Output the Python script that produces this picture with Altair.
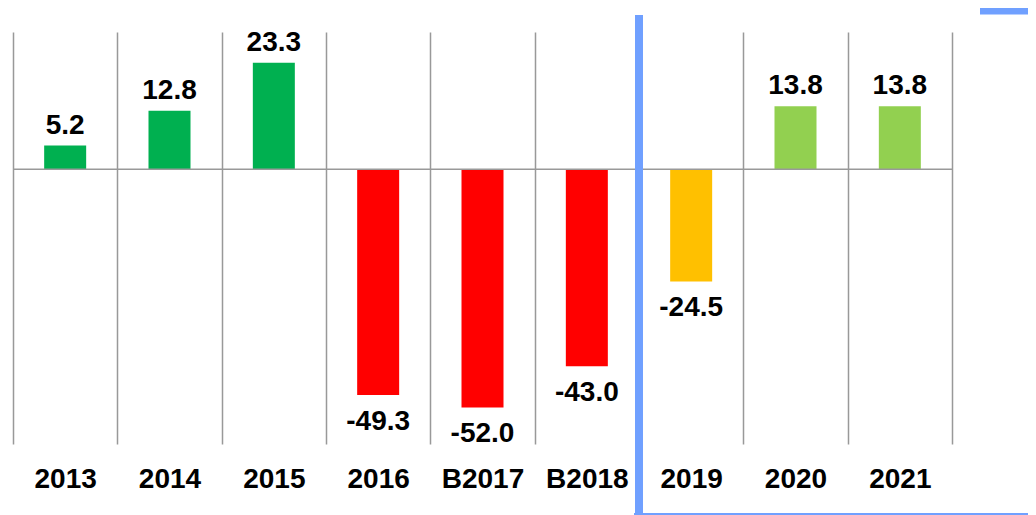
import altair as alt
import pandas as pd

years = ["2013", "2014", "2015", "2016", "B2017", "B2018", "2019", "2020", "2021"]
values = [5.2, 12.8, 23.3, -49.3, -52.0, -43.0, -24.5, 13.8, 13.8]
groups = ["actual_up", "actual_up", "actual_up", "actual_down", "actual_down",
          "actual_down", "forecast_down", "forecast_up", "forecast_up"]

group_domain = ["actual_up", "actual_down", "forecast_down", "forecast_up"]
group_colors = ["#00B050", "#FF0000", "#FFC000", "#92D050"]

BLUE = "#70A0FF"
GRID = "#999999"
FONT = "Liberation Sans"

df = pd.DataFrame({
    "year": years,
    "value": values,
    "group": groups,
    "label": [f"{v:.1f}" for v in values],
})
one = pd.DataFrame({"year": ["2019"]})

W, H = 939, 412

x_enc = alt.X(
    "year:N", sort=years,
    scale=alt.Scale(paddingInner=0, paddingOuter=0),
    axis=alt.Axis(
        title=None, labelAngle=0, labelFontSize=28, labelFont=FONT,
        labelFontWeight="bold", labelColor="black", labelBaseline="alphabetic",
        labelPadding=43, ticks=False, domain=False, grid=True,
        gridColor=GRID, gridWidth=1.5, gridOpacity=1, tickBand="extent",
    ),
)
y_enc = alt.Y("value:Q", scale=alt.Scale(domain=[-60, 30], nice=False, zero=True), axis=None)

base = alt.Chart(df)

bars = base.mark_bar(size=42).encode(
    x=x_enc,
    y=y_enc,
    color=alt.Color("group:N", scale=alt.Scale(domain=group_domain, range=group_colors), legend=None),
)

zero = alt.Chart(pd.DataFrame({"v": [0]})).mark_rule(color=GRID, strokeWidth=1.5).encode(
    y=alt.Y("v:Q")
)

text_kw = dict(fontSize=28, fontWeight="bold", font=FONT, color="black", baseline="alphabetic")
pos_labels = base.transform_filter("datum.value > 0").mark_text(dy=-12, **text_kw).encode(
    x=alt.X("year:N", sort=years), y="value:Q", text="label:N"
)
neg_labels = base.transform_filter("datum.value < 0").mark_text(dy=35, **text_kw).encode(
    x=alt.X("year:N", sort=years), y="value:Q", text="label:N"
)

vline = alt.Chart(one).mark_rule(color=BLUE, strokeWidth=8, strokeCap="butt").encode(
    x=alt.X("year:N", sort=years, bandPosition=0),
    y=alt.value(-17), y2=alt.value(495),
)
top_line = alt.Chart(one).mark_rule(color=BLUE, strokeWidth=8, strokeCap="butt").encode(
    x=alt.value(967), x2=alt.value(1020), y=alt.value(-21.5)
)
bottom_line = alt.Chart(one).mark_rule(color=BLUE, strokeWidth=8, strokeCap="butt").encode(
    x=alt.value(621), x2=alt.value(1020), y=alt.value(485)
)

chart = alt.layer(bars, zero, pos_labels, neg_labels, vline, top_line, bottom_line).properties(
    width=W, height=H,
    autosize=alt.AutoSizeParams(type="none"),
    padding={"left": 5, "top": 24, "right": 76, "bottom": 71},
).configure_view(stroke=None)

chart.save("out.html", embed_options={"renderer": "svg", "actions": False})
